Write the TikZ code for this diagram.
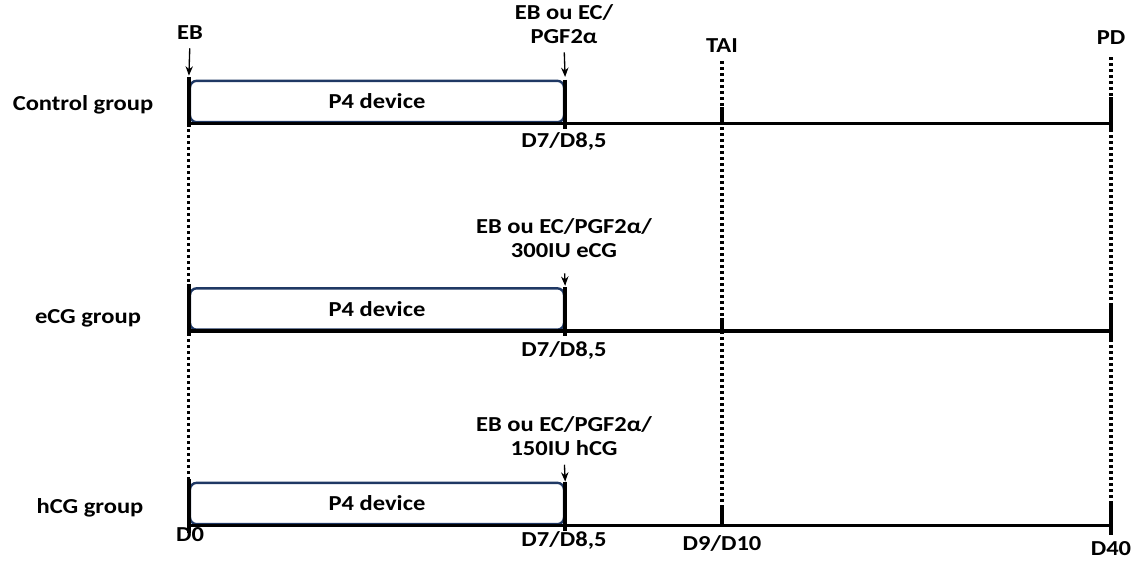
\documentclass[tikz,border=0pt]{standalone}
\usepackage{fontspec}
\setmainfont{Carlito}[FakeStretch=1.15]
\usetikzlibrary{arrows.meta, positioning}
\definecolor{devblue}{RGB}{31,56,100}

\begin{document}
\begin{tikzpicture}[x=0.75pt, y=-0.75pt,
        lab/.style={font=\bfseries\fontsize{16}{18}\selectfont, inner sep=0pt, anchor=base, align=center},
        device/.style={draw=devblue, line width=1.8pt, rounded corners=5pt, minimum width=280.5pt, minimum height=31pt, inner sep=0pt, font=\bfseries\fontsize{16}{18}\selectfont},
        axis/.style={line width=2.6pt},
        tick/.style={line width=2.6pt},
        guide/.style={line width=2.4pt, dash pattern=on 2.2pt off 2.3pt},
        cue/.style={-{Stealth[length=7pt, width=5.5pt]}, line width=1pt},
        ]

        \useasboundingbox (0,0) rectangle (1134,560);

        % groupes
        \node[lab] (ctrl) at (83,110) {Control group};
        \node[lab] (ecg) at (88,323) {eCG group};
        \node[lab] (hcg) at (90,513) {hCG group};

        % dispositifs P4
        \node[device] (box1) at (377,101.5) {P4 device};
        \node[device] (box2) at (377,309) {P4 device};
        \node[device] (box3) at (377,503.5) {P4 device};

        % textes du haut
        \node[lab] (eb) at (190,40) {EB};
        \node[lab] (pgf1) at (564,44) {EB ou EC/\\PGF2α};
        \node[lab] (tai) at (722,53) {TAI};
        \node[lab] (pd) at (1111,45) {PD};
        \node[lab] (pgf2) at (564,257) {EB ou EC/PGF2α/\\300IU eCG};
        \node[lab] (pgf3) at (564,455) {EB ou EC/PGF2α/\\150IU hCG};

        % jours
        \node[lab] (d7a) at (564,147) {D7/D8,5};
        \node[lab] (d7b) at (564,356) {D7/D8,5};
        \node[lab] (d0) at (190,541) {D0};
        \node[lab] (d7c) at (564,546) {D7/D8,5};
        \node[lab] (d910) at (722,550) {D9/D10};
        \node[lab] (d40) at (1111,555) {D40};

        % pointilles
        \draw[guide] (box1.south west) -- (box3.north west);
        \draw[guide, shorten <=6pt] (tai.south) -- (box3.south -| tai);
        \draw[guide, shorten <=9pt] (pd.south) -- (box3.south -| pd);

        % axes
        \draw[axis] (box1.south west) -- (box1.south -| pd);
        \draw[axis] (box2.south west) -- (box2.south -| pd);
        \draw[axis] (box3.south west) -- (box3.south -| pd);

        % traits verticaux
        \draw[tick] ([yshift=2pt]box1.north west) -- ([yshift=-3pt]box1.south west);
        \draw[tick] ([yshift=2pt]box2.north west) -- ([yshift=-4pt]box2.south west);
        \draw[tick] ([yshift=2pt]box3.north west) -- ([yshift=-6pt]box3.south west);
        \draw[tick] (box1.north east) -- ([yshift=-4pt]box1.south east);
        \draw[tick] (box2.north east) -- ([yshift=-4pt]box2.south east);
        \draw[tick] (box3.north east) -- ([yshift=-4pt]box3.south east);
        \draw[tick] (box1.south -| tai) -- ++(0,-16);
        \draw[tick] (box2.south -| tai) -- ++(0,-13);
        \draw[tick] (box3.south -| tai) -- ++(0,-17);
        \draw[tick] ([yshift=-4pt]box1.south -| pd) -- ++(0,-32);
        \draw[tick] ([yshift=-6pt]box2.south -| pd) -- ++(0,-33);
        \draw[tick] ([yshift=-7pt]box3.south -| pd) -- ++(0,-33);

        % fleches
        \draw[cue, shorten <=6pt, shorten >=3pt] (eb.south) -- (box1.north west);
        \draw[cue, shorten <=6pt, shorten >=2pt] (pgf1.south) -- (box1.north east);
        \draw[cue, shorten <=12pt, shorten >=1pt] (pgf2.south) -- (box2.north east);
        \draw[cue, shorten <=7pt] (pgf3.south) -- (box3.north east);

\end{tikzpicture}
\end{document}
